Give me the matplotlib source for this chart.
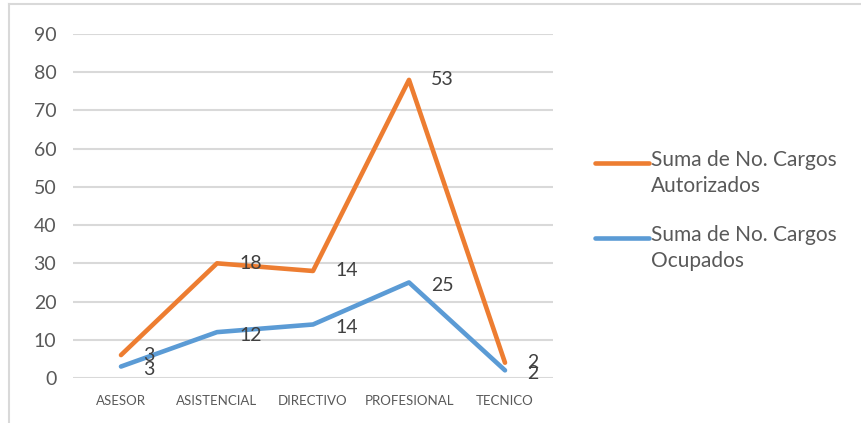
import numpy as np
import matplotlib.pyplot as plt
from matplotlib.lines import Line2D

# ----------------------------
# Datos
# ----------------------------
categorias = ['ASESOR', 'ASISTENCIAL', 'DIRECTIVO', 'PROFESIONAL', 'TECNICO']
ocupados = [3, 12, 14, 25, 2]
autorizados = [3, 18, 14, 53, 2]
series_names = ['Suma de No. Cargos\nAutorizados', 'Suma de No. Cargos\nOcupados']

# grafico de lineas apiladas (como en Excel)
ocup = np.array(ocupados)
auto_stack = ocup + np.array(autorizados)

ORANGE = '#ED7D31'
BLUE = '#5B9BD5'
GRAY_TXT = '#595959'
GRID = '#D9D9D9'

plt.rcParams['font.family'] = ['Lato', 'DejaVu Sans']

fig = plt.figure(figsize=(8.61, 4.23), dpi=100)
ax = fig.add_axes([73 / 861, 1 - 378 / 423, 480 / 861, 344 / 423])

x = np.arange(len(categorias))
ax.plot(x, auto_stack, color=ORANGE, linewidth=3.3, solid_capstyle='round', zorder=3)
ax.plot(x, ocup, color=BLUE, linewidth=3.3, solid_capstyle='round', zorder=3)

for xi, yi, lab in zip(x, auto_stack, autorizados):
    ax.annotate(str(lab), (xi, yi), xytext=(22, 0), textcoords='offset pixels',
                ha='left', va='center', fontsize=14, color='#404040')
for xi, yi, lab in zip(x, ocup, ocupados):
    ax.annotate(str(lab), (xi, yi), xytext=(22, -3), textcoords='offset pixels',
                ha='left', va='center', fontsize=14, color='#404040')

ax.set_xlim(-0.5, len(categorias) - 0.5)
ax.set_ylim(0, 90)
ax.set_yticks(range(0, 91, 10))
ax.set_xticks(x)
ax.set_xticklabels(categorias)
ax.yaxis.grid(True, color=GRID, linewidth=1.5)
ax.set_axisbelow(True)
for s in ax.spines.values():
    s.set_visible(False)
ax.tick_params(axis='y', length=0, pad=12, labelsize=14, labelcolor=GRAY_TXT)
ax.tick_params(axis='x', length=0, pad=12, labelsize=9.5, labelcolor=GRAY_TXT)

# ----------------------------
# Leyenda manual
# ----------------------------
for (yl, col, name) in [(163, ORANGE, series_names[0]), (238, BLUE, series_names[1])]:
    fig.add_artist(Line2D([595 / 861, 649 / 861], [1 - yl / 423] * 2, color=col,
                          linewidth=3.3, solid_capstyle='round'))
    fig.text(651 / 861, 1 - (yl - 13) / 423, name, ha='left', va='top',
             fontsize=15, color=GRAY_TXT, linespacing=1.35)

# borde del grafico
fig.add_artist(Line2D([9 / 861, 1], [1 - 4 / 423] * 2, color='#D9D9D9', linewidth=1.5))
fig.add_artist(Line2D([9 / 861] * 2, [0, 1 - 4 / 423], color='#D9D9D9', linewidth=1.5))

fig.savefig('out.png', dpi=100)
